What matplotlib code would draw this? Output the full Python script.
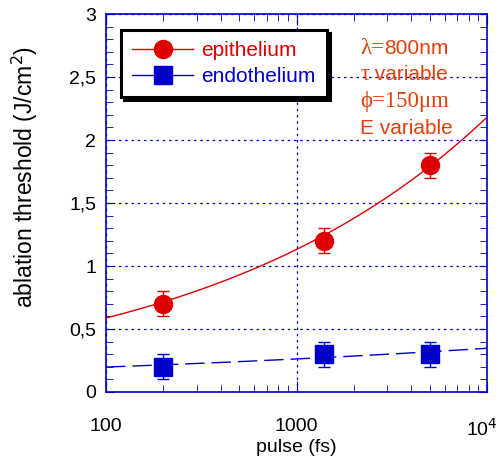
import numpy as np
import matplotlib.pyplot as plt
import matplotlib.transforms as mtransforms
from matplotlib.ticker import FixedLocator, FuncFormatter, NullFormatter

plt.rcParams['font.family'] = ['Liberation Sans', 'DejaVu Sans']

pulse = [200, 1400, 5000]
epithelium = [0.7, 1.2, 1.8]
epithelium_err = [0.1, 0.1, 0.1]
endothelium = [0.2, 0.3, 0.3]
endothelium_err = [0.1, 0.1, 0.1]

# power-law fits: y = a * (x/100)**b
epi_fit = (0.587, 0.285)
endo_fit = (0.198, 0.122)

RED = '#dd0000'
BLUE = '#0000cc'
ORANGE = '#e0400a'

fig = plt.figure(figsize=(5.01, 4.59), dpi=100)
ax = fig.add_axes([106 / 501, 1 - 392 / 459, 381 / 501, 378 / 459])

xf = np.logspace(2, 4, 200)
ax.plot(xf, epi_fit[0] * (xf / 100) ** epi_fit[1], color=RED, lw=1, zorder=3)
ax.plot(xf, endo_fit[0] * (xf / 100) ** endo_fit[1], color=BLUE, lw=1,
        dashes=(14, 5), zorder=3)

ax.errorbar(pulse, epithelium, yerr=epithelium_err, fmt='o', color=RED,
            ms=13, elinewidth=1, capsize=4, capthick=1, zorder=4)
ax.errorbar(pulse, endothelium, yerr=endothelium_err, fmt='s', color=BLUE,
            ms=13, elinewidth=1, capsize=4, capthick=1, zorder=4)

ax.set_xscale('log')
ax.set_xlim(100, 1e4)
ax.set_ylim(0, 3)

ax.xaxis.set_major_locator(FixedLocator([100, 1000, 10000]))
ax.xaxis.set_major_formatter(FuncFormatter(
    lambda v, p: {100: '100', 1000: '1000', 10000: r'10$^4$'}.get(int(round(v)), '')))
ax.xaxis.set_minor_locator(FixedLocator(
    [m * d for d in (100, 1000) for m in range(2, 10)]))
ax.xaxis.set_minor_formatter(NullFormatter())

ax.yaxis.set_major_locator(FixedLocator(np.arange(0, 3.01, 0.5)))
ax.yaxis.set_major_formatter(FuncFormatter(
    lambda v, p: ('%g' % v).replace('.', ',')))
ax.yaxis.set_minor_locator(FixedLocator(np.arange(0, 3.01, 0.1)))

for s in ax.spines.values():
    s.set_color(BLUE)
    s.set_linewidth(1.2)
ax.tick_params(which='both', direction='in', color=BLUE, top=True, right=True,
               labelsize=14, labelcolor='black')
ax.tick_params(axis='x', which='major', length=8, pad=19)
ax.tick_params(axis='x', which='minor', length=5)
ax.tick_params(axis='y', which='major', length=6, pad=7)
ax.tick_params(axis='y', which='minor', length=5)

ax.grid(True, which='major', color=BLUE, ls=(0, (2, 3)), lw=0.9)
ax.set_axisbelow(True)

ax.set_xlabel('pulse (fs)', fontsize=14)
ax.xaxis.set_label_coords(0.5, -0.125)
ax.set_ylabel('ablation threshold (J/cm$^2$)', fontsize=16.5)
ax.yaxis.set_label_coords(-0.172, 0.569)

leg = ax.legend(
    [plt.Line2D([], [], color=RED, marker='o', ms=13, lw=1),
     plt.Line2D([], [], color=BLUE, marker='s', ms=13, lw=1)],
    ['epithelium', 'endothelium'], loc='upper left',
    bbox_to_anchor=(0.039, 0.958), borderaxespad=0, fontsize=15,
    frameon=True, fancybox=False, shadow={'color': 'black', 'alpha': 1},
    borderpad=0.55, handlelength=2.9, labelspacing=0.32, handletextpad=0.4)
leg.get_frame().set_edgecolor('black')
leg.get_frame().set_linewidth(2.2)
for t, c in zip(leg.get_texts(), [RED, BLUE]):
    t.set_color(c)

SANS = ['Liberation Sans', 'DejaVu Sans']
SERIF = ['Liberation Serif', 'DejaVu Serif']
notes = [
    [('λ=', SERIF), ('800nm', SANS)],
    [('τ', SERIF), (' variable', SANS)],
    [('ϕ=150μm', SERIF)],
    [('E variable', SANS)],
]
for i, pieces in enumerate(notes):
    y = 0.910 - i * 0.071
    prev = None
    for txt, fam in pieces:
        size = 16.5 if fam is SERIF else 15
        if prev is None:
            prev = ax.text(0.667, y, txt, transform=ax.transAxes, color=ORANGE,
                           fontsize=size, family=fam, va='center', ha='left')
        else:
            prev = ax.annotate(txt, xy=(1, 0.5), xycoords=prev, color=ORANGE,
                               fontsize=size, family=fam, va='center', ha='left')

# nudge the 10^4 label inward so it stays inside the figure
fig.canvas.draw()
last = ax.xaxis.get_major_ticks()[-1].label1
last.set_transform(last.get_transform() +
                   mtransforms.ScaledTranslation(-5 / 100, 0, fig.dpi_scale_trans))

fig.savefig('out.png', dpi=100)
